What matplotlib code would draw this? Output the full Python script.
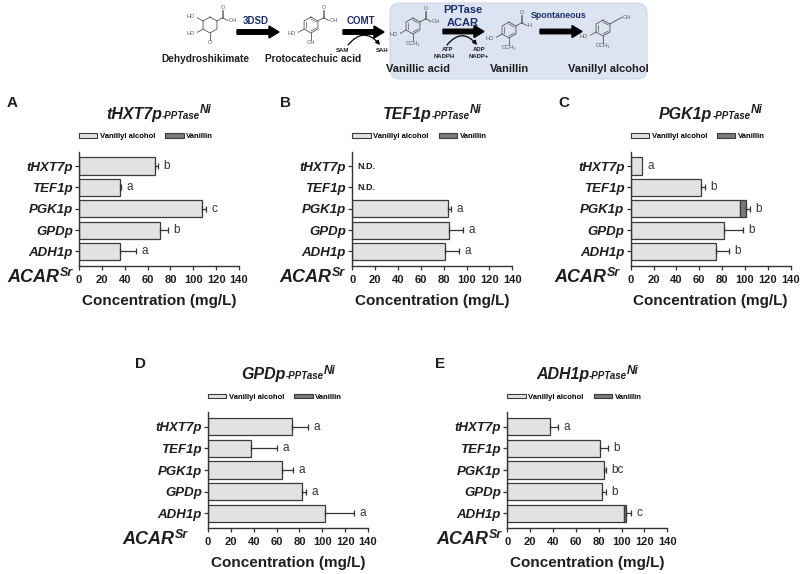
import numpy as np
import matplotlib
matplotlib.use("Agg")
import matplotlib.pyplot as plt
from matplotlib.patches import FancyArrow, FancyBboxPatch, Patch

plt.rcParams['font.family'] = ['Liberation Sans', 'DejaVu Sans']

# ---------------- data ----------------
promoters = ['tHXT7p', 'TEF1p', 'PGK1p', 'GPDp', 'ADH1p']
panel_letters = ['A', 'B', 'C', 'D', 'E']
panel_titles = ['tHXT7p', 'TEF1p', 'PGK1p', 'GPDp', 'ADH1p']
xticks = [0, 20, 40, 60, 80, 100, 120, 140]

alc_A = [66.5, 35.5, 107.5, 71.0, 36.0]
van_A = [0, 0, 0, 0, 0]
err_A = [2.5, 1.0, 4.0, 7.0, 14.0]
sig_A = ['b', 'a', 'c', 'b', 'a']

alc_B = [0, 0, 83.5, 85.0, 81.5]
van_B = [0, 0, 0, 0, 0]
err_B = [0, 0, 2.7, 11.5, 11.7]
sig_B = ['', '', 'a', 'a', 'a']
nd_B = [True, True, False, False, False]

alc_C = [10.0, 61.5, 96.0, 81.5, 75.0]
van_C = [0, 0, 4.5, 0, 0]
err_C = [0, 3.5, 3.5, 16.5, 11.0]
sig_C = ['a', 'b', 'b', 'b', 'b']

alc_D = [73.5, 37.5, 65.0, 82.5, 102.0]
van_D = [0, 0, 0, 0, 0]
err_D = [14.0, 22.5, 9.5, 3.0, 26.0]
sig_D = ['a', 'a', 'a', 'a', 'a']

alc_E = [37.5, 81.5, 84.5, 82.5, 102.3]
van_E = [0, 0, 0, 0, 1.5]
err_E = [6.5, 6.3, 1.5, 4.0, 4.2]
sig_E = ['a', 'b', 'bc', 'b', 'c']

no_nd = [False] * 5
panels = [
    (alc_A, van_A, err_A, sig_A, no_nd),
    (alc_B, van_B, err_B, sig_B, nd_B),
    (alc_C, van_C, err_C, sig_C, no_nd),
    (alc_D, van_D, err_D, sig_D, no_nd),
    (alc_E, van_E, err_E, sig_E, no_nd),
]

# ---------------- figure ----------------
W, H = 801, 574
fig = plt.figure(figsize=(W / 100, H / 100), dpi=100)
ov = fig.add_axes([0, 0, 1, 1])
ov.set_xlim(0, W)
ov.set_ylim(H, 0)
ov.axis('off')
ov.set_zorder(5)
ov.patch.set_alpha(0)

TXT = '#1e1e1e'
NAVY = '#1c2f6e'
BAR_FC = '#e2e2e2'
VAN_FC = '#7a7a7a'
EDGE = '#3a3a3a'


def px_axes(left, top, width, height):
    return fig.add_axes([left / W, 1 - (top + height) / H, width / W, height / H])


renderer = fig.canvas.get_renderer()


def _runs(yb, runs, color):
    texts, widths = [], []
    for s, size, dy in runs:
        t = ov.text(0, yb + dy, s, fontsize=size, fontweight='bold', fontstyle='italic',
                    ha='left', va='baseline', color=color)
        texts.append(t)
        widths.append(t.get_window_extent(renderer=renderer).width)
    return texts, widths


def rich(xc, yb, runs, color=TXT):
    texts, widths = _runs(yb, runs, color)
    x = xc - sum(widths) / 2
    for t, w in zip(texts, widths):
        t.set_x(x)
        x += w


def rich_right(xr, yb, runs, color=TXT):
    texts, widths = _runs(yb, runs, color)
    x = xr - sum(widths)
    for t, w in zip(texts, widths):
        t.set_x(x)
        x += w


# ---------------- pathway diagram ----------------
ov.add_patch(FancyBboxPatch((390, 3), 257, 76, boxstyle='round,pad=0,rounding_size=10',
                            fc='#dce3f1', ec='#cdd6ea', lw=0.8, zorder=0))

GC = '#555555'
MFS = 4.0


def vtx(cx, cy, r, a):
    a = np.deg2rad(a)
    return cx + r * np.cos(a), cy - r * np.sin(a)


def molecule(cx, cy, subs, r=8.0, aromatic=True):
    ang = np.arange(90, 450, 60)
    pts = [vtx(cx, cy, r, a) for a in ang] + [vtx(cx, cy, r, 90)]
    ov.plot([p[0] for p in pts], [p[1] for p in pts], color=GC, lw=0.6)
    if aromatic:
        for a0 in (90, 210, 330):
            p1 = vtx(cx, cy, r * 0.75, a0)
            p2 = vtx(cx, cy, r * 0.75, a0 - 60)
            ov.plot([p1[0], p2[0]], [p1[1], p2[1]], color=GC, lw=0.5)
    for a, kind, label in subs:
        vx, vy = vtx(cx, cy, r, a)
        ex, ey = vtx(vx, vy, 6.5, a)
        ov.plot([vx, ex], [vy, ey], color=GC, lw=0.6)
        if kind == 'CH2OH':
            ov.plot([ex, ex + 6.5], [ey, ey - 3.5], color=GC, lw=0.6)
            ov.text(ex + 7, ey - 3.5, 'OH', fontsize=MFS, ha='left', va='center', color=GC)
        elif kind in ('COOH', 'CHO'):
            ov.plot([ex - 0.8, ex - 0.8], [ey, ey - 7.5], color=GC, lw=0.5)
            ov.plot([ex + 0.8, ex + 0.8], [ey, ey - 7.5], color=GC, lw=0.5)
            ov.text(ex, ey - 10, 'O', fontsize=MFS, ha='center', va='center', color=GC)
            ov.plot([ex, ex + 5.5], [ey, ey + 2.8], color=GC, lw=0.6)
            ov.text(ex + 6, ey + 2.8, 'OH' if kind == 'COOH' else 'H',
                    fontsize=MFS, ha='left', va='center', color=GC)
        else:
            tx, ty = vtx(ex, ey, 2.5, a)
            c = np.cos(np.deg2rad(a))
            ha = 'right' if c < -0.1 else ('left' if c > 0.1 else 'center')
            ov.text(tx, ty, label, fontsize=MFS, ha=ha, va='center', color=GC)


molecule(210, 25, [(30, 'COOH', ''), (150, 'T', 'HO'), (210, 'T', 'HO'), (270, 'T', 'O')],
         aromatic=False)
molecule(311, 25, [(30, 'COOH', ''), (210, 'T', 'HO'), (270, 'T', 'OH')])
molecule(413, 26, [(30, 'COOH', ''), (210, 'T', 'HO'), (270, 'T', 'OCH₃')])
molecule(509, 30, [(30, 'CHO', ''), (210, 'T', 'HO'), (270, 'T', 'OCH₃')])
molecule(603, 28, [(30, 'CH2OH', ''), (210, 'T', 'HO'), (270, 'T', 'OCH₃')])

for xc, yc, name, fs in [(205.5, 59.5, 'Dehydroshikimate', 7.3),
                         (313, 59.5, 'Protocatechuic acid', 7.3),
                         (418, 68.5, 'Vanillic acid', 8.0),
                         (510, 68.5, 'Vanillin', 8.0),
                         (608, 68.5, 'Vanillyl alcohol', 8.0)]:
    ov.text(xc, yc, name, fontsize=fs, fontweight='bold', ha='center', va='center', color=TXT)

for x0, x1, y in [(237, 279, 32), (343, 384, 32), (443, 484, 31.5), (540, 582, 31.5)]:
    ov.add_patch(FancyArrow(x0, y, x1 - x0, 0, width=4.5, head_width=12, head_length=10,
                            length_includes_head=True, color='k', zorder=3))

ov.text(256, 20.5, '3DSD', fontsize=7, fontweight='bold', color=NAVY, ha='center', va='center')
ov.text(361, 20.5, 'COMT', fontsize=7, fontweight='bold', color=NAVY, ha='center', va='center')
ov.text(462.5, 10, 'PPTase', fontsize=8, fontweight='bold', color=NAVY, ha='center', va='center')
ov.text(462.5, 22.5, 'ACAR', fontsize=8, fontweight='bold', color=NAVY, ha='center', va='center')
ov.text(558.5, 16, 'Spontaneous', fontsize=6.3, fontweight='bold', color=NAVY, ha='center',
        va='center')

ov.annotate('', xy=(380, 45), xytext=(348, 45),
            arrowprops=dict(arrowstyle='-|>', connectionstyle='arc3,rad=-0.6', lw=0.9,
                            color='k', mutation_scale=6, shrinkA=0, shrinkB=0))
ov.text(342, 50, 'SAM', fontsize=4.3, fontweight='bold', ha='center', va='center', color=TXT)
ov.text(382, 50, 'SAH', fontsize=4.3, fontweight='bold', ha='center', va='center', color=TXT)
ov.annotate('', xy=(477, 45), xytext=(447, 45),
            arrowprops=dict(arrowstyle='-|>', connectionstyle='arc3,rad=-0.6', lw=0.9,
                            color='k', mutation_scale=6, shrinkA=0, shrinkB=0))
ov.text(447.5, 49.5, 'ATP', fontsize=4.3, fontweight='bold', ha='center', va='center', color=TXT)
ov.text(444.5, 56.5, 'NADPH', fontsize=4.3, fontweight='bold', ha='center', va='center', color=TXT)
ov.text(479, 49.5, 'ADP', fontsize=4.3, fontweight='bold', ha='center', va='center', color=TXT)
ov.text(479, 56.5, 'NADP+', fontsize=4.3, fontweight='bold', ha='center', va='center', color=TXT)

# ---------------- bar panels ----------------
layout = [  # left, top, height (pixels)
    (79.0, 151.7, 114.0),
    (352.3, 151.7, 114.0),
    (630.7, 151.7, 114.0),
    (208.0, 412.3, 115.7),
    (507.3, 412.3, 115.7),
]
acar_right = [73, 345, 620, 188, 502]
AW = 160.0

for i, ((alc, van, err, sig, nd), (left, top, hgt)) in enumerate(zip(panels, layout)):
    ax = px_axes(left, top, AW, hgt)
    y = np.arange(len(promoters))
    alc = np.array(alc, float)
    van = np.array(van, float)
    err = np.array(err, float)
    nd = np.array(nd, bool)
    show = ~nd
    ax.barh(y[show], alc[show], height=0.8, color=BAR_FC, edgecolor=EDGE, lw=0.9, zorder=2)
    vm = van > 0
    if vm.any():
        ax.barh(y[vm], van[vm], left=alc[vm], height=0.8, color=VAN_FC, edgecolor=EDGE,
                lw=0.9, zorder=2)
    tot = alc + van
    em = show & (err > 0)
    ax.errorbar(tot[em], y[em], xerr=[np.zeros(em.sum()), err[em]], fmt='none',
                ecolor='#333333', elinewidth=0.9, capsize=2, capthick=0.9, zorder=3)
    for k in range(len(promoters)):
        if nd[k]:
            ax.text(4.4, y[k], 'N.D.', fontsize=6.5, fontweight='bold', ha='left', va='center',
                    color=TXT)
        elif sig[k]:
            ax.text(tot[k] + err[k] + 4.8, y[k], sig[k], fontsize=8.5, ha='left', va='center',
                    color='#333333')
    ax.set_xlim(0, 140)
    ax.set_ylim(len(promoters) - 1 + 0.67, -0.67)
    ax.set_xticks(xticks)
    ax.set_xticklabels([str(t) for t in xticks], fontweight='bold', fontsize=8.0)
    ax.set_yticks(y)
    ax.set_yticklabels(promoters, fontweight='bold', fontstyle='italic', fontsize=9.5)
    for s in ('top', 'right'):
        ax.spines[s].set_visible(False)
    for s in ('left', 'bottom'):
        ax.spines[s].set_color('#333333')
        ax.spines[s].set_linewidth(1.0)
    ax.tick_params(axis='x', length=3, width=0.9, pad=3.5, colors='#333333', labelcolor=TXT)
    ax.tick_params(axis='y', length=3, width=0.9, pad=1.5, colors='#333333', labelcolor=TXT)
    handles = [Patch(fc=BAR_FC, ec=EDGE, lw=0.8, label='Vanillyl alcohol'),
               Patch(fc=VAN_FC, ec=EDGE, lw=0.8, label='Vanillin')]
    ax.legend(handles=handles, loc='center left', bbox_to_anchor=(0, 1 + 15 / hgt), ncol=2,
              frameon=False, prop={'weight': 'bold', 'size': 5.5}, handlelength=2.4,
              handleheight=0.55, handletextpad=0.35, columnspacing=1.3, borderpad=0,
              borderaxespad=0)

    bottom = top + hgt
    xc = left + AW / 2
    ov.text(xc, bottom + 35, 'Concentration (mg/L)', fontsize=11, fontweight='bold',
            ha='center', va='center', color=TXT)
    ov.text(left - 67, top - 48.4, panel_letters[i], fontsize=11, fontweight='bold',
            ha='center', va='center', color=TXT)
    rich(xc, top - 33, [(panel_titles[i], 11.5, 0), ('-PPTase', 7, 0), ('Ni', 8.5, -5.5)])
    rich_right(acar_right[i], bottom + 16.5, [('ACAR', 13, 0), ('Sr', 9, -6.5)])

fig.savefig('out.png', dpi=100)
